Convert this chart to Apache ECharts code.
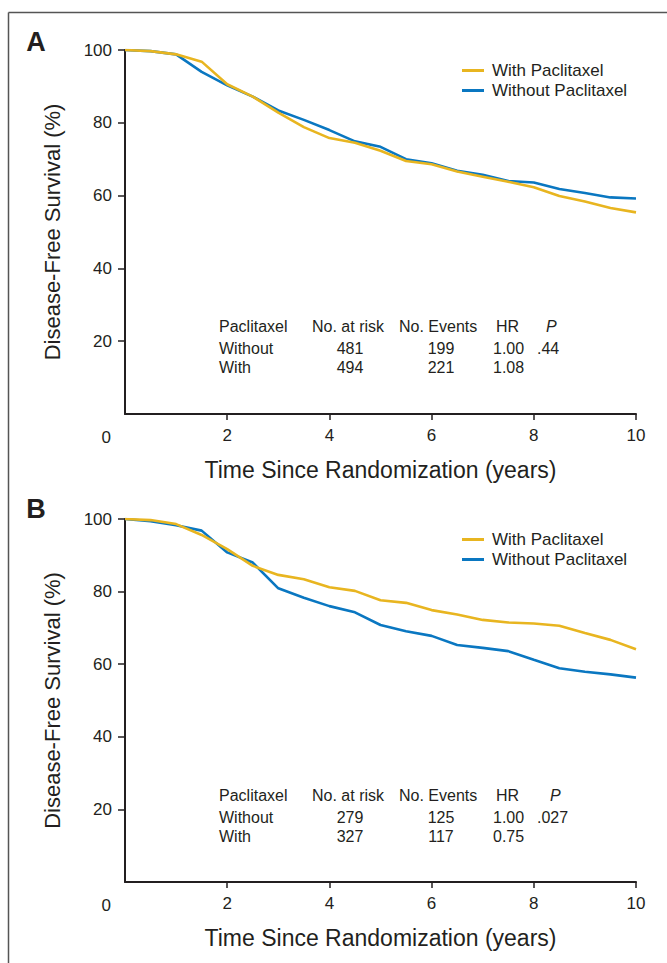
<!DOCTYPE html>
<html>
<head>
<meta charset="utf-8">
<script src="https://cdn.jsdelivr.net/npm/echarts@6/dist/echarts.min.js"></script>
<style>
html,body{margin:0;padding:0;background:#fff;}
#chart{width:667px;height:963px;}
</style>
</head>
<body>
<div id="chart"></div>
<script>
// ---- data ----
const years = [0,0.5,1,1.5,2,2.5,3,3.5,4,4.5,5,5.5,6,6.5,7,7.5,8,8.5,9,9.5,10];
const aWith    = [100,99.7,98.8,96.8,90.6,87.2,82.8,78.8,75.8,74.5,72.3,69.5,68.6,66.6,65.2,63.8,62.3,59.9,58.4,56.6,55.4];
const aWithout = [100,99.7,98.8,94.0,90.3,87.2,83.4,80.8,78.0,74.9,73.4,70.0,68.9,66.8,65.7,64.0,63.6,61.8,60.7,59.5,59.2];
const bWith    = [100,99.7,98.6,95.6,91.7,87.1,84.6,83.4,81.2,80.2,77.6,76.9,74.9,73.7,72.2,71.5,71.2,70.6,68.6,66.7,64.1];
const bWithout = [100,99.4,98.3,96.8,90.8,88.0,80.9,78.3,76.0,74.3,70.8,69.1,67.8,65.3,64.5,63.6,61.2,58.9,57.9,57.2,56.3];
const xTickValues = [2,4,6,8,10];
const yTickValues = [20,40,60,80,100];
const seriesNames = ['With Paclitaxel','Without Paclitaxel'];
const panelLabels = ['A','B'];
const xTitle = 'Time Since Randomization (years)';
const yTitle = 'Disease-Free Survival (%)';
const tableHeader = ['Paclitaxel','No. at risk','No. Events','HR','P'];
const tableA = [['Without','481','199','1.00','.44'],['With','494','221','1.08','']];
const tableB = [['Without','279','125','1.00','.027'],['With','327','117','0.75','']];

// ---- styling ----
const YELLOW = '#E8B520';
const BLUE = '#0A77C1';
const INK = '#231f20';
const FONT = '"Liberation Sans", Arial, Helvetica, sans-serif';

const grids = [
  {left:125, top:50, width:511, height:364},
  {left:125, top:519, width:511, height:363}
];

function xAxisFor(i){
  return {
    type:'value', gridIndex:i, min:0, max:10, interval:2,
    name:xTitle, nameLocation:'middle', nameGap:44,
    nameTextStyle:{fontFamily:FONT, fontSize:23, color:INK},
    axisLine:{show:true, lineStyle:{color:INK, width:2}},
    axisTick:{show:true, length:6, customValues:xTickValues, lineStyle:{color:INK, width:1.5}},
    axisLabel:{customValues:xTickValues, margin:13, fontFamily:FONT, fontSize:17, color:INK},
    splitLine:{show:false}
  };
}
function yAxisFor(i){
  return {
    type:'value', gridIndex:i, min:0, max:100, interval:20,
    name:yTitle, nameLocation:'middle', nameGap:62,
    nameTextStyle:{fontFamily:FONT, fontSize:22, color:INK},
    axisLine:{show:true, lineStyle:{color:INK, width:2}},
    axisTick:{show:true, length:7, customValues:yTickValues, lineStyle:{color:INK, width:1.5}},
    axisLabel:{customValues:yTickValues, margin:13, fontFamily:FONT, fontSize:17, color:INK},
    splitLine:{show:false}
  };
}
function lineSeries(name, vals, idx, color){
  return {
    type:'line', name:name, xAxisIndex:idx, yAxisIndex:idx,
    data: years.map((t,k)=>[t, vals[k]]),
    showSymbol:false, symbol:'none', smooth:false,
    lineStyle:{color:color, width:2.6}, itemStyle:{color:color},
    z: color===YELLOW ? 3 : 2,
    animation:false
  };
}
function legendFor(top){
  return {
    orient:'vertical', left:457, top:top, itemWidth:22, itemHeight:3, itemGap:3,
    icon:'rect', data:seriesNames,
    textStyle:{fontFamily:FONT, fontSize:17, color:INK, lineHeight:17, padding:[0,0,0,3]},
    selectedMode:false
  };
}

// table graphics
const colHeaderX = [219, 312, 399, 496, 546];
const colValX    = [219, 350, 441, 493, 537];
const colValAlign= ['left','center','center','left','left'];
function tableGraphics(rows, headerY, rowYs, pX){
  const g = [];
  tableHeader.forEach((h,c)=>{
    g.push({type:'text', left:undefined, x:(c===4?pX:colHeaderX[c]), y:headerY,
      style:{text:h, fontFamily:FONT, fontSize:16, fill:INK, fontStyle:(c===4?'italic':'normal'),
             align:'left', verticalAlign:'middle'}});
  });
  rows.forEach((r,ri)=>{
    r.forEach((v,c)=>{
      if(v==='') return;
      g.push({type:'text', x:colValX[c], y:rowYs[ri],
        style:{text:v, fontFamily:FONT, fontSize:16, fill:INK, align:colValAlign[c], verticalAlign:'middle'}});
    });
  });
  return g;
}

const graphics = [
  // frame
  {type:'line', shape:{x1:8.5, y1:12.5, x2:667, y2:12.5}, style:{stroke:'#555', lineWidth:1.5}},
  {type:'line', shape:{x1:8.5, y1:12.5, x2:8.5, y2:963}, style:{stroke:'#555', lineWidth:1.5}},
  // panel labels
  {type:'text', x:36, y:42, style:{text:panelLabels[0], fontFamily:FONT, fontSize:27, fontWeight:'bold', fill:INK, align:'center', verticalAlign:'middle'}},
  {type:'text', x:36, y:509, style:{text:panelLabels[1], fontFamily:FONT, fontSize:27, fontWeight:'bold', fill:INK, align:'center', verticalAlign:'middle'}},
  // corner zero labels
  {type:'text', x:111, y:437, style:{text:'0', fontFamily:FONT, fontSize:17, fill:INK, align:'right', verticalAlign:'middle'}},
  {type:'text', x:111, y:905, style:{text:'0', fontFamily:FONT, fontSize:17, fill:INK, align:'right', verticalAlign:'middle'}}
].concat(tableGraphics(tableA, 326, [348, 367], 546))
 .concat(tableGraphics(tableB, 795, [817, 836], 550));

const chart = echarts.init(document.getElementById('chart'), null, {renderer:'svg', width:667, height:963});
chart.setOption({
  backgroundColor:'#fff',
  animation:false,
  grid:grids,
  xAxis:[xAxisFor(0), xAxisFor(1)],
  yAxis:[yAxisFor(0), yAxisFor(1)],
  legend:[legendFor(57), legendFor(526)],
  series:[
    lineSeries(seriesNames[1], aWithout, 0, BLUE),
    lineSeries(seriesNames[0], aWith, 0, YELLOW),
    lineSeries(seriesNames[1], bWithout, 1, BLUE),
    lineSeries(seriesNames[0], bWith, 1, YELLOW)
  ],
  graphic:graphics
});
</script>
</body>
</html>
